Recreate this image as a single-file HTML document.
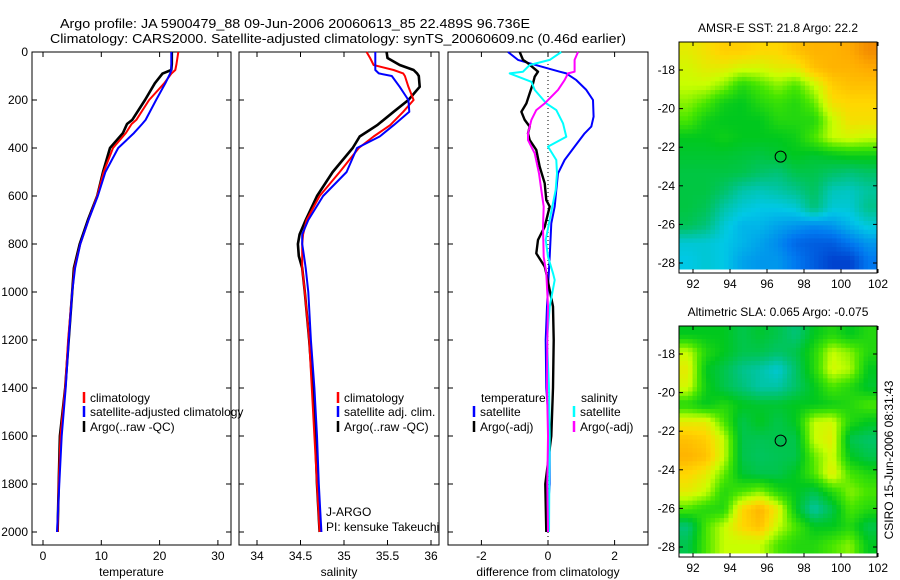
<!DOCTYPE html>
<html><head><meta charset="utf-8"><style>
html,body{margin:0;padding:0;background:#fff;}
svg{display:block;font-family:"Liberation Sans",sans-serif;}
</style></head><body>
<svg id="fig" width="900" height="580" viewBox="0 0 900 580" xmlns="http://www.w3.org/2000/svg">
<text x="60" y="28" font-size="13" textLength="470" lengthAdjust="spacingAndGlyphs">Argo profile: JA 5900479_88 09-Jun-2006 20060613_85 22.489S 96.736E</text>
<text x="50" y="43" font-size="13" textLength="576" lengthAdjust="spacingAndGlyphs">Climatology: CARS2000. Satellite-adjusted climatology: synTS_20060609.nc (0.46d earlier)</text>
<g id="plots"></g>
</svg>
<script>
// ---------- data ----------
const depthTicks=[0,200,400,600,800,1000,1200,1400,1600,1800,2000];
const tempTicks=[0,10,20,30];
const salTicks=[34,34.5,35,35.5,36];
const diffTicks=[-2,0,2];
const lonTicks=[92,94,96,98,100,102];
const latTicks=[-18,-20,-22,-24,-26,-28];

const tDepth=[0,50,75,90,130,200,283,300,338,400,500,600,700,800,900,1000,1200,1400,1600,1800,2000];
const tArgo=[22.1,22.1,22.0,20.5,19.2,17.5,15.3,14.4,13.7,11.5,10.3,9.3,7.7,6.3,5.3,5.0,4.4,3.8,2.9,2.7,2.5];
const tClim=[23.2,22.9,22.7,22.0,20.8,18.2,16.0,15.2,14.2,12.0,10.4,9.3,7.8,6.4,5.4,5.0,4.3,3.8,3.0,2.7,2.5];
const tSat=[22.0,22.0,22.0,21.8,21.0,19.4,17.6,17.0,15.6,12.9,10.7,9.4,7.8,6.4,5.5,5.0,4.4,3.9,3.2,2.8,2.4];

const sDepth=[0,25,54,75,89,100,145,200,249,305,352,400,500,600,700,760,800,850,900,1000,1200,1400,1600,1800,2000];
const sArgo=[35.49,35.50,35.64,35.80,35.84,35.86,35.87,35.74,35.57,35.38,35.18,35.10,34.87,34.69,34.56,34.49,34.47,34.48,34.52,34.55,34.60,34.64,34.67,34.69,34.72];
const sClim=[35.26,35.30,35.34,35.57,35.68,35.70,35.74,35.80,35.68,35.53,35.34,35.17,34.95,34.72,34.57,34.53,34.52,34.52,34.52,34.55,34.60,34.63,34.66,34.69,34.72];
const sSat=[35.36,35.36,35.36,35.36,35.40,35.55,35.64,35.74,35.75,35.57,35.41,35.15,35.03,34.76,34.59,34.52,34.52,34.54,34.56,34.59,34.62,34.66,34.69,34.71,34.74];

const dT_depth=[0,33,47,82,89,117,158,200,269,311,339,394,450,506,575,644,714,853,1061,1200,1400,1600,1800,2000];
const dT_sat=[-1.2,-0.9,-0.55,0.35,0.55,0.85,1.15,1.35,1.37,1.3,1.1,0.8,0.5,0.3,0.25,0.2,0.1,0.05,-0.03,-0.07,-0.05,0.05,0.05,-0.05];
const dA_depth=[0,33,47,82,103,131,172,214,249,283,311,339,367,408,478,547,617,644,728,783,839,894,922,992,1061,1200,1400,1600,1800,2000];
const dA_argo=[-0.85,-0.75,-0.6,-0.3,-0.4,-0.45,-0.55,-0.65,-0.8,-0.7,-0.55,-0.6,-0.55,-0.35,-0.25,-0.1,-0.05,0.05,-0.1,-0.3,-0.35,-0.1,-0.05,0.05,0.15,0.17,0.15,0.1,-0.08,-0.05];
const dS_depth=[0,33,54,82,89,124,158,214,242,297,353,394,450,506,575,644,714,783,853,922,950,1061,1200,1400,1600,1800,2000];
const dS_sat=[0.4,0.05,-0.55,-0.75,-1.15,-0.5,-0.4,-0.05,0.25,0.45,0.55,0,0.25,0.27,0.23,0.13,0.03,-0.07,0,0.15,0.2,0.05,-0.03,0.03,0.05,0.04,0.03];
const dM_depth=[0,33,82,89,117,158,214,242,283,339,367,422,506,575,644,728,853,922,1061,1200,1400,1600,1800,2000];
const dM_argo=[0.9,0.8,0.8,0.6,0.5,0.3,-0.1,-0.35,-0.5,-0.6,-0.6,-0.4,-0.27,-0.2,-0.13,-0.15,-0.13,-0.05,0,-0.02,-0.03,0,-0.02,0];

const sstGrid=[
[0.75,0.78,0.82,0.82,0.8,0.8,0.85,0.88,0.88,0.9,0.95],
[0.72,0.75,0.75,0.72,0.72,0.75,0.75,0.85,0.88,0.88,0.9],
[0.7,0.7,0.65,0.55,0.6,0.65,0.6,0.7,0.82,0.85,0.85],
[0.65,0.6,0.52,0.5,0.55,0.58,0.55,0.62,0.78,0.8,0.8],
[0.6,0.52,0.5,0.5,0.5,0.55,0.55,0.55,0.7,0.78,0.78],
[0.5,0.5,0.52,0.5,0.5,0.5,0.52,0.6,0.7,0.72,0.7],
[0.48,0.48,0.48,0.47,0.46,0.48,0.5,0.48,0.5,0.52,0.52],
[0.46,0.46,0.46,0.45,0.42,0.4,0.45,0.45,0.42,0.4,0.42],
[0.46,0.46,0.42,0.35,0.33,0.35,0.38,0.43,0.33,0.32,0.36],
[0.46,0.44,0.35,0.3,0.28,0.28,0.3,0.4,0.3,0.3,0.38],
[0.44,0.4,0.3,0.25,0.25,0.22,0.2,0.18,0.2,0.25,0.3],
[0.3,0.3,0.28,0.25,0.22,0.18,0.12,0.1,0.1,0.15,0.2],
[0.28,0.3,0.28,0.22,0.2,0.2,0.15,0.1,0.05,0.05,0.15]];
const slaGrid=[
[0.5,0.5,0.5,0.45,0.48,0.45,0.4,0.5,0.55,0.5,0.55],
[0.7,0.55,0.5,0.45,0.45,0.42,0.45,0.55,0.7,0.65,0.55],
[0.75,0.5,0.45,0.38,0.35,0.3,0.42,0.55,0.72,0.68,0.5],
[0.72,0.52,0.45,0.4,0.35,0.35,0.42,0.5,0.6,0.55,0.48],
[0.55,0.5,0.55,0.5,0.48,0.48,0.5,0.5,0.52,0.55,0.6],
[0.75,0.75,0.6,0.45,0.5,0.45,0.5,0.7,0.72,0.55,0.5],
[0.85,0.82,0.7,0.45,0.44,0.45,0.45,0.7,0.75,0.45,0.42],
[0.88,0.85,0.7,0.45,0.43,0.44,0.45,0.62,0.72,0.5,0.45],
[0.8,0.75,0.62,0.48,0.45,0.45,0.5,0.6,0.75,0.6,0.55],
[0.75,0.7,0.55,0.6,0.65,0.55,0.5,0.45,0.55,0.65,0.6],
[0.6,0.55,0.55,0.8,0.88,0.75,0.5,0.35,0.45,0.6,0.55],
[0.4,0.6,0.7,0.8,0.85,0.7,0.6,0.5,0.5,0.55,0.45],
[0.45,0.6,0.7,0.7,0.7,0.6,0.55,0.55,0.6,0.65,0.5]];
const argoLon=96.736, argoLat=-22.489;

// ---------- helpers ----------
const NS="http://www.w3.org/2000/svg";
const root=document.getElementById('plots');
function mk(tag,attrs,parent){const e=document.createElementNS(NS,tag);for(const k in attrs)e.setAttribute(k,attrs[k]);(parent||root).appendChild(e);return e;}
function txt(x,y,s,size,anchor,parent){const e=mk('text',{x:x,y:y,'font-size':size||12,'text-anchor':anchor||'start'},parent);e.textContent=s;return e;}

const Y0=52, YS=0.24, TOP=52, BOT=545;
const yD=d=>Y0+YS*d;
const panels=[
 {name:'temperature',L:32,R:231,x:v=>43+5.83*v,ticks:tempTicks,label:'temperature',ylab:true},
 {name:'salinity',L:239,R:439,x:v=>257+87*(v-34),ticks:salTicks,label:'salinity'},
 {name:'difference',L:448,R:648,x:v=>548+33.3*v,ticks:diffTicks,label:'difference from climatology'}];

panels.forEach(p=>{
  const g=mk('g',{});
  
  
  const fr=mk('rect',{x:p.L,y:TOP,width:p.R-p.L,height:BOT-TOP,fill:'none',stroke:'#000','stroke-width':1},g);
  
  
  depthTicks.forEach(d=>{
    mk('line',{x1:p.L,x2:p.L+5,y1:yD(d),y2:yD(d),stroke:'#000'},g);
    mk('line',{x1:p.R-5,x2:p.R,y1:yD(d),y2:yD(d),stroke:'#000'},g);
    if(p.ylab){const t=txt(p.L-4,yD(d)+4,String(d),12,'end',g);
      
      }
  });
  p.ticks.forEach(v=>{
    const X=p.x(v);
    mk('line',{x1:X,x2:X,y1:TOP,y2:TOP+5,stroke:'#000'},g);
    mk('line',{x1:X,x2:X,y1:BOT-5,y2:BOT,stroke:'#000'},g);
    const t=txt(X,560,String(v),12,'middle',g);
    
    
  });
  const xl=txt((p.L+p.R)/2,576,p.label,12,'middle',g);
  
  
  p.g=g;
});

function line(p,ds,vs,color,w,name){
  const pts=ds.map((d,i)=>p.x(vs[i]).toFixed(1)+','+yD(d).toFixed(1)).join(' ');
  const e=mk('polyline',{points:pts,fill:'none',stroke:color,'stroke-width':w,'stroke-linejoin':'round'},p.g);
  
  
}
const zl=mk('line',{x1:panels[2].x(0),x2:panels[2].x(0),y1:TOP,y2:BOT,stroke:'#000','stroke-dasharray':'1,3'},panels[2].g);



line(panels[0],tDepth,tArgo,'#000',2.6,'temp-argo-line');
line(panels[0],tDepth,tClim,'#f00',2,'temp-climatology-line');
line(panels[0],tDepth,tSat,'#00f',2,'temp-satellite-line');
line(panels[1],sDepth,sArgo,'#000',2.6,'sal-argo-line');
line(panels[1],sDepth,sClim,'#f00',2,'sal-climatology-line');
line(panels[1],sDepth,sSat,'#00f',2,'sal-satellite-line');
line(panels[2],dT_depth,dT_sat,'#00f',2,'diff-temp-satellite-line');
line(panels[2],dA_depth,dA_argo,'#000',2.4,'diff-temp-argo-line');
line(panels[2],dS_depth,dS_sat,'#0ff',2,'diff-sal-satellite-line');
line(panels[2],dM_depth,dM_argo,'#f0f',2,'diff-sal-argo-line');

function legend(g,x,y,color,label,name){
  const le=mk('g',{},g);
  
  
  if(color) mk('line',{x1:x,x2:x,y1:y-10,y2:y+1,stroke:color,'stroke-width':2.5},le);
  txt(x+6,y,label,12,'start',le);
}
legend(panels[0].g,84,402,'#f00','climatology','legend-climatology');
legend(panels[0].g,84,416,'#00f','satellite-adjusted climatology','legend-satellite');
legend(panels[0].g,84,431,'#000','Argo(..raw -QC)','legend-argo');
legend(panels[1].g,338,402,'#f00','climatology','legend-climatology');
legend(panels[1].g,338,416,'#00f','satellite adj. clim.','legend-satellite');
legend(panels[1].g,338,431,'#000','Argo(..raw -QC)','legend-argo');
legend(panels[2].g,475,402,null,'temperature','legend-temperature-header');
legend(panels[2].g,474,416,'#00f','satellite','legend-temp-satellite');
legend(panels[2].g,474,431,'#000','Argo(-adj)','legend-temp-argo');
legend(panels[2].g,575,402,null,'salinity','legend-salinity-header');
legend(panels[2].g,574,416,'#0ff','satellite','legend-sal-satellite');
legend(panels[2].g,574,431,'#f0f','Argo(-adj)','legend-sal-argo');
const j1=txt(326,516,'J-ARGO',12,'start',panels[1].g);


const j2=txt(326,531,'PI: kensuke Takeuchi',12,'start',panels[1].g);



// ---------- maps ----------
const stops=[[0,[0,40,190]],[0.15,[0,120,240]],[0.28,[0,200,230]],[0.4,[0,195,120]],[0.5,[0,200,30]],[0.6,[70,230,0]],[0.7,[200,255,0]],[0.8,[255,215,0]],[0.9,[255,170,0]],[1,[230,110,0]]];
function cmap(v){for(let i=1;i<stops.length;i++){if(v<=stops[i][0]){const a=stops[i-1],b=stops[i],t=(v-a[0])/(b[0]-a[0]);
  return 'rgb('+a[1].map((c,k)=>Math.round(c+(b[1][k]-c)*t)).join(',')+')';}}return 'rgb(230,110,0)';}
function sample(grid,fr,fc){
  const rows=grid.length, cols=grid[0].length;
  const r=Math.max(0,Math.min(rows-1,fr-0.5)), c=Math.max(0,Math.min(cols-1,fc-0.5));
  const r0=Math.floor(r), c0=Math.floor(c), r1=Math.min(rows-1,r0+1), c1=Math.min(cols-1,c0+1);
  const tr=r-r0, tc=c-c0;
  return (grid[r0][c0]*(1-tc)+grid[r0][c1]*tc)*(1-tr)+(grid[r1][c0]*(1-tc)+grid[r1][c1]*tc)*tr;
}

function map(top,grid,title,name,fillDot){
  const L=679,R=877,T=top,B=top+231;
  const x=lon=>693+18.5*(lon-92);
  const y=lat=>T+28+19.3*(-18-lat);
  const g=mk('g',{});
  
  
  const rows=grid.length, cols=grid[0].length, S=4;
  const cw=(R-L)/(cols*S), ch=(B-4-T)/(rows*S);
  for(let r=0;r<rows*S;r++)for(let c=0;c<cols*S;c++){
    const v=sample(grid,(r+0.5)/S,(c+0.5)/S);
    const cell=mk('rect',{x:(L+c*cw).toFixed(2),y:(T+r*ch).toFixed(2),width:(cw+0.5).toFixed(2),height:(ch+0.5).toFixed(2),fill:cmap(v)},g);
    
    
  }
  mk('rect',{x:L,y:T,width:R-L,height:B-T,fill:'none',stroke:'#000'},g);
  latTicks.forEach(l=>{mk('line',{x1:L,x2:L+4,y1:y(l),y2:y(l),stroke:'#000'},g);mk('line',{x1:R-4,x2:R,y1:y(l),y2:y(l),stroke:'#000'},g);
    const t=txt(L-4,y(l)+4,String(l),12,'end',g);
    
    });
  lonTicks.forEach(l=>{mk('line',{x1:x(l),x2:x(l),y1:T,y2:T+4,stroke:'#000'},g);mk('line',{x1:x(l),x2:x(l),y1:B-4,y2:B,stroke:'#000'},g);
    const t=txt(x(l),B+15,String(l),12,'middle',g);
    
    });
  const c=mk('circle',{cx:x(argoLon),cy:y(argoLat),r:5.5,fill:fillDot||'none',stroke:'#000','stroke-width':1},g);
  
  
  const tt=txt(778,T-10,title,12,'middle',g);
  
  
}
map(42,sstGrid,'AMSR-E SST: 21.8 Argo: 22.2','sst-map',null);
map(326,slaGrid,'Altimetric SLA: 0.065 Argo: -0.075','sla-map','rgb(0,190,80)');
const cs=txt(0,0,'CSIRO 15-Jun-2006 08:31:43',12,'middle');
cs.setAttribute('transform','translate(893,460) rotate(-90)');


</script>
</body></html>
